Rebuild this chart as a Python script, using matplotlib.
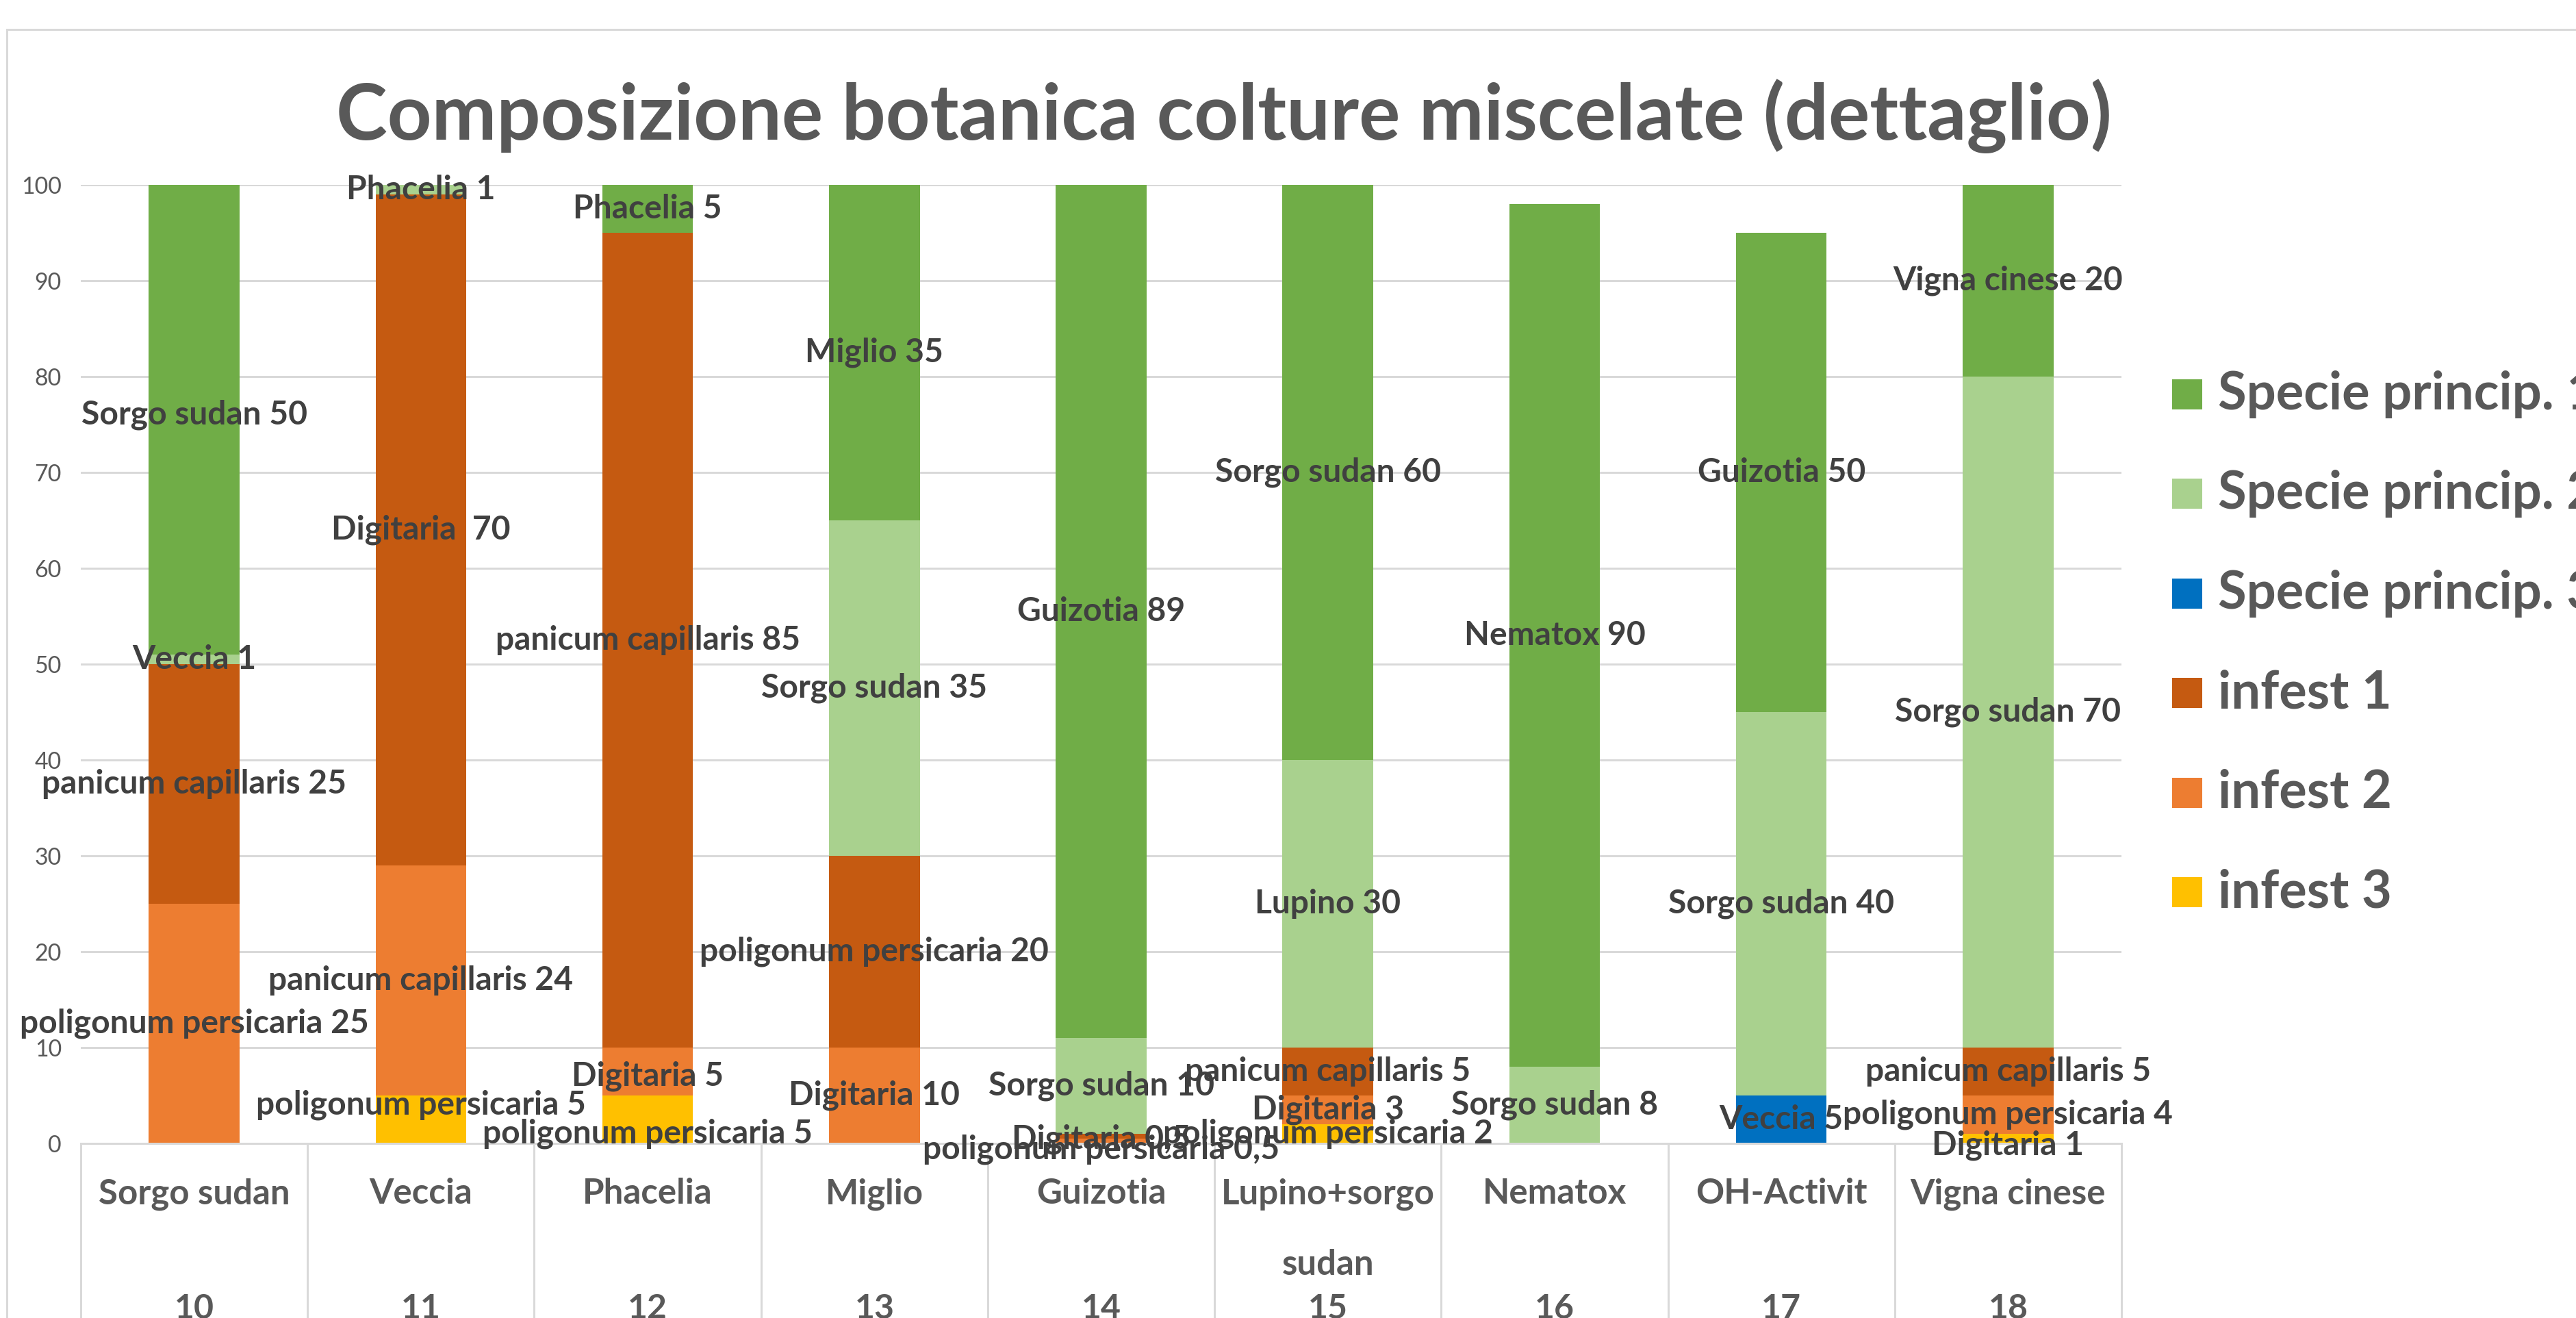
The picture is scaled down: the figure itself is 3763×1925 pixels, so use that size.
import matplotlib
matplotlib.use("Agg")
import matplotlib.pyplot as plt
import matplotlib.transforms as mtransforms
from matplotlib.patches import Rectangle

plt.rcParams['font.family'] = ['Lato', 'DejaVu Sans']

W, H, DPI = 3763, 1925, 100

title = "Composizione botanica colture miscelate (dettaglio)"
categories = ["Sorgo sudan", "Veccia", "Phacelia", "Miglio", "Guizotia",
              "Lupino+sorgo\nsudan", "Nematox", "OH-Activit", "Vigna cinese"]
codes = ["10", "11", "12", "13", "14", "15", "16", "17", "18"]

# stacking order bottom -> top
series = ["infest 3", "infest 2", "infest 1",
          "Specie princip. 3", "Specie princip. 2", "Specie princip. 1"]
colors = {"infest 3": "#FFC000", "infest 2": "#ED7D31", "infest 1": "#C55A11",
          "Specie princip. 3": "#0070C0", "Specie princip. 2": "#A9D18E",
          "Specie princip. 1": "#70AD47"}

infest3 = [0, 5, 5, 0, 0, 2, 0, 0, 1]
infest3_names = ["", "poligonum persicaria", "poligonum persicaria", "", "",
                 "poligonum persicaria", "", "", "Digitaria"]
infest2 = [25, 24, 5, 10, 0.5, 3, 0, 0, 4]
infest2_names = ["poligonum persicaria", "panicum capillaris", "Digitaria", "Digitaria",
                 "poligonum persicaria", "Digitaria", "", "", "poligonum persicaria"]
infest1 = [25, 70, 85, 20, 0.5, 5, 0, 0, 5]
infest1_names = ["panicum capillaris", "Digitaria ", "panicum capillaris",
                 "poligonum persicaria", "Digitaria", "panicum capillaris", "", "",
                 "panicum capillaris"]
sp3 = [0, 0, 0, 0, 0, 0, 0, 5, 0]
sp3_names = ["", "", "", "", "", "", "", "Veccia", ""]
sp2 = [1, 1, 0, 35, 10, 30, 8, 40, 70]
sp2_names = ["Veccia", "Phacelia", "", "Sorgo sudan", "Sorgo sudan", "Lupino",
             "Sorgo sudan", "Sorgo sudan", "Sorgo sudan"]
sp1 = [50, 0, 5, 35, 89, 60, 90, 50, 20]
sp1_names = ["Sorgo sudan", "", "Phacelia", "Miglio", "Guizotia", "Sorgo sudan",
             "Nematox", "Guizotia", "Vigna cinese"]

data = {"infest 3": (infest3, infest3_names), "infest 2": (infest2, infest2_names),
        "infest 1": (infest1, infest1_names), "Specie princip. 3": (sp3, sp3_names),
        "Specie princip. 2": (sp2, sp2_names), "Specie princip. 1": (sp1, sp1_names)}

# small manual nudges of overlapping labels (data units)
label_nudge = {("infest 3", 1): 1.5, ("infest 3", 2): -1.5, ("infest 2", 2): -0.5,
               ("infest 1", 4): -0.3, ("infest 2", 4): -0.85, ("infest 3", 8): -0.7}

def px(v):
    return v * 72.0 / DPI

def fmt(v):
    return str(int(v)) if float(v).is_integer() else str(v).replace('.', ',')

fig = plt.figure(figsize=(W / DPI, H / DPI), dpi=DPI)
fig.patch.set_facecolor("white")

# chart border
fig.patches.append(Rectangle((10 / W, -0.5), 2.0, 1.5 - 43 / H, transform=fig.transFigure,
                             fill=False, edgecolor="#D9D9D9", linewidth=px(3), zorder=0))

L, R, T, B = 118, 3099, 270, 1670
ax = fig.add_axes([L / W, (H - B) / H, (R - L) / W, (B - T) / H])
ax.set_xlim(-0.5, len(categories) - 0.5)
ax.set_ylim(0, 100)
ax.set_axisbelow(True)
ax.yaxis.grid(True, color="#D9D9D9", linewidth=px(3))
ax.set_yticks(range(0, 101, 10))
ax.tick_params(axis='y', length=0, pad=px(28), labelsize=px(34), labelcolor="#595959")
ax.set_xticks([])
for s in ["top", "right", "left"]:
    ax.spines[s].set_visible(False)
ax.spines["bottom"].set_color("#D9D9D9")
ax.spines["bottom"].set_linewidth(px(3))

x = list(range(len(categories)))
bottom = [0.0] * len(categories)
for s in series:
    vals, names = data[s]
    ax.bar(x, vals, width=0.4, bottom=bottom, color=colors[s], linewidth=0, zorder=2)
    for i, (v, n) in enumerate(zip(vals, names)):
        if v > 0 and n:
            yc = bottom[i] + v / 2.0 + label_nudge.get((s, i), 0)
            ax.text(i, yc, f"{n} {fmt(v)}", ha="center", va="center",
                    fontsize=px(48), fontweight="bold", color="#404040", zorder=5,
                    clip_on=False)
    bottom = [b + v for b, v in zip(bottom, vals)]

# category axis (two levels) with separators
blend = mtransforms.blended_transform_factory(ax.transData, fig.transFigure)
for k in range(len(categories) + 1):
    ax.plot([k - 0.5, k - 0.5], [1 - B / H, -0.05], transform=blend, color="#D9D9D9",
            linewidth=px(3), clip_on=False, zorder=1)
for i, (c, n) in enumerate(zip(categories, codes)):
    ax.text(i, 1 - 1720 / H, c, transform=blend, ha="center", va="top",
            fontsize=px(51), fontweight="bold", color="#595959", linespacing=2.5)
    ax.text(i, 1 - 1926 / H, n, transform=blend, ha="center", va="baseline",
            fontsize=px(50), fontweight="bold", color="#595959")

fig.text(1788 / W, 1 - 170 / H, title, ha="center", va="center", fontsize=px(113),
         fontweight="bold", color="#595959")

# legend (top of stack first)
for j, s in enumerate(reversed(series)):
    yc = 576 + j * 145.4
    fig.patches.append(Rectangle((3173 / W, 1 - (yc + 22) / H), 44 / W, 44 / H,
                                 transform=fig.transFigure, facecolor=colors[s],
                                 edgecolor="none"))
    fig.text(3240 / W, 1 - yc / H, s, ha="left", va="center", fontsize=px(76),
             fontweight="bold", color="#595959")

fig.savefig("out.png", dpi=DPI)
